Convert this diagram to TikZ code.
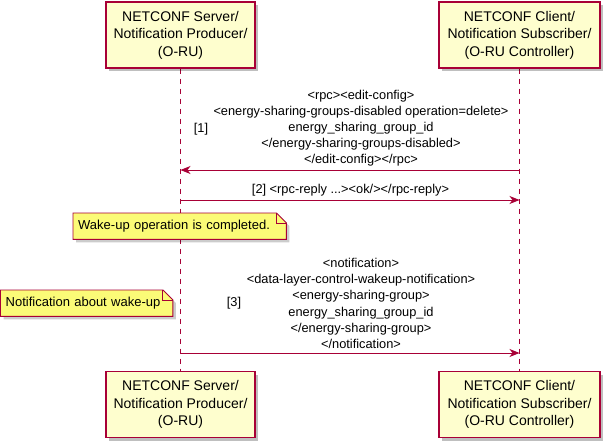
\documentclass[tikz,border=0pt]{standalone}
\usepackage{fontspec}
\setmainfont{Liberation Sans}
\usetikzlibrary{arrows.meta,shadows}
\definecolor{pborder}{RGB}{168,0,54}
\definecolor{pfill}{RGB}{254,254,206}
\definecolor{nfill}{RGB}{251,251,119}
\pgfdeclarelayer{lifelayer}
\pgfdeclarelayer{notebg}
\pgfsetlayers{lifelayer,notebg,main}
\newcommand\mynote[1]{%
  \fill[black,opacity=.2] ([shift={(3pt,-3pt)}]#1.north west) -- ([shift={(-7pt,-3pt)}]#1.north east) -- ([shift={(3pt,-13pt)}]#1.north east) -- ([shift={(3pt,-3pt)}]#1.south east) -- ([shift={(3pt,-3pt)}]#1.south west) -- cycle;
  \filldraw[draw=pborder,fill=nfill,line width=0.9pt] (#1.north west) -- ([xshift=-10pt]#1.north east) -- ([yshift=-10pt]#1.north east) -- (#1.south east) -- (#1.south west) -- cycle;
  \draw[pborder,line width=0.9pt] ([xshift=-10pt]#1.north east) -- ([shift={(-10pt,-10pt)}]#1.north east) -- ([yshift=-10pt]#1.north east);
}
\begin{document}
\begin{tikzpicture}[x=1pt,y=-1pt,
  part/.style={draw=pborder,line width=1.3pt,fill=pfill,align=center,
    font=\fontsize{14}{17.5}\selectfont,inner sep=0pt,minimum height=66pt,
    drop shadow={shadow xshift=3pt,shadow yshift=-3pt,fill=black,opacity=.25}},
  life/.style={draw=pborder,dash pattern=on 5pt off 5pt,line width=0.8pt},
  msg/.style={draw=pborder,line width=0.9pt,-{Stealth[length=10pt,width=8pt,inset=3pt]}},
  msgtxt/.style={align=center,font=\fontsize{12.8}{16}\selectfont,inner sep=0pt},
  numtxt/.style={font=\fontsize{12.8}{16}\selectfont,inner sep=0pt},
  notetxt/.style={font=\fontsize{13}{16}\selectfont,inner xsep=5pt,inner ysep=0pt,
    align=left,anchor=north west,minimum height=26pt},
]
\useasboundingbox (0,0) rectangle (605,444);
% participants
\node[part,minimum width=149pt] (p1t) at (180.5,35) {NETCONF Server/\\Notification Producer/\\(O-RU)};
\node[part,minimum width=161pt] (p2t) at (519.5,35) {NETCONF Client/\\Notification Subscriber/\\(O-RU Controller)};
\node[part,minimum width=149pt] (p1b) at (180.5,404.5) {NETCONF Server/\\Notification Producer/\\(O-RU)};
\node[part,minimum width=161pt] (p2b) at (519.5,404.5) {NETCONF Client/\\Notification Subscriber/\\(O-RU Controller)};
% lifelines
\begin{pgfonlayer}{lifelayer}
\draw[life] (p1t.south) -- (p1b.north);
\draw[life] (p2t.south) -- (p2b.north);
\end{pgfonlayer}
% message levels
\coordinate (y1) at (0,170);
\coordinate (y2) at (0,200);
\coordinate (y3) at (0,353);
\coordinate (m1l) at (p1t.south |- y1);
\coordinate (m1r) at (p2t.south |- y1);
\coordinate (m2l) at (p1t.south |- y2);
\coordinate (m2r) at (p2t.south |- y2);
\coordinate (m3l) at (p1t.south |- y3);
\coordinate (m3r) at (p2t.south |- y3);
% message 1
\node[numtxt] (n1num) at (201,129) {[1]};
\node[msgtxt] (t1) at (361,128.5) {<rpc><edit-config>\\<energy-sharing-groups-disabled operation=delete>\\energy\_sharing\_group\_id\\</energy-sharing-groups-disabled>\\</edit-config></rpc>};
\draw[msg] (m1r) -- (m1l);
% message 2
\node[msgtxt] (t2) at (350.5,190) {[2] <rpc-reply ...><ok/></rpc-reply>};
\draw[msg] (m2l) -- (m2r);
% note 1
\node[notetxt,text width=203pt] (note1) at (73,213) {Wake-up operation is completed.};
% message 3
\node[numtxt] (n3num) at (234,303) {[3]};
\node[msgtxt,font=\fontsize{12.8}{16.2}\selectfont] (t3) at (361,303.5) {<notification>\\<data-layer-control-wakeup-notification>\\<energy-sharing-group>\\energy\_sharing\_group\_id\\</energy-sharing-group>\\</notification>};
\draw[msg] (m3l) -- (m3r);
% note 2
\node[notetxt,text width=162pt] (note2) at (0.5,290) {Notification about wake-up};
\begin{pgfonlayer}{notebg}
\mynote{note1}
\mynote{note2}
\end{pgfonlayer}
\end{tikzpicture}
\end{document}
